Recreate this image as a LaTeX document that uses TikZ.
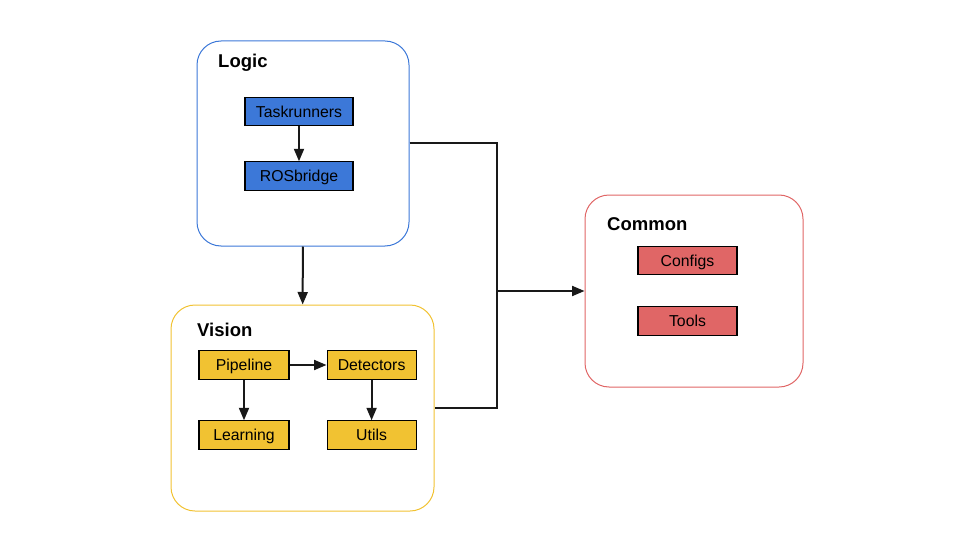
\documentclass[tikz,border=0pt]{standalone}
\usepackage{fontspec}
\setmainfont{Liberation Sans}
\usetikzlibrary{arrows.meta,positioning,calc}

\definecolor{logicblue}{HTML}{3C78D8}
\definecolor{visionyellow}{HTML}{F1C232}
\definecolor{commonred}{HTML}{E06666}

\begin{document}
\begin{tikzpicture}[x=1pt,y=-1pt,
  group/.style={draw,rounded corners=24pt,line width=1pt,inner sep=0pt},
  module/.style={draw=black,line width=1.1pt,rectangle,inner sep=0pt,minimum height=28.5pt,
    text height=14.5pt,text depth=3pt,font=\fontsize{15.8}{18}\selectfont},
  title/.style={anchor=base west,inner sep=0pt,font=\fontsize{18.5}{21}\selectfont\bfseries},
  link/.style={line width=2pt,draw=black!90},
  tip/.style={-{Triangle[length=12.5pt,width=10pt]}}]

  \useasboundingbox (0,0) rectangle (960,540);

  % the three groups
  \node (logic)  [group,draw=logicblue,minimum width=212pt,minimum height=205pt] at (303,143.5) {};
  \node (vision) [group,draw=visionyellow,minimum width=263pt,minimum height=206pt] at (302.5,408) {};
  \node (common) [group,draw=commonred,minimum width=218pt,minimum height=192pt] at (694,291) {};

  \node (logicT)  [title] at (218,68) {Logic};
  \node (visionT) [title] at (197,336) {Vision};
  \node (commonT) [title] at (607,230) {Common};

  % logic
  \node (task) [module,fill=logicblue,minimum width=108pt] at (299,111.5) {Taskrunners};
  \node (ros)  [module,fill=logicblue,minimum width=108pt,below=35pt of task] {ROSbridge};
  \draw[link,tip] (task) -- (ros);

  % vision
  \node (pipe)  [module,fill=visionyellow,minimum width=90pt] at (244,365) {Pipeline};
  \node (det)   [module,fill=visionyellow,minimum width=89pt,right=37pt of pipe] {Detectors};
  \node (learn) [module,fill=visionyellow,minimum width=90pt,below=40.5pt of pipe] {Learning};
  \node (utils) [module,fill=visionyellow,minimum width=89pt,below=40.5pt of det] {Utils};
  \draw[link,tip] (pipe) -- (det);
  \draw[link,tip] (pipe) -- (learn);
  \draw[link,tip] (det) -- (utils);

  % common
  \node (conf)  [module,fill=commonred,minimum width=99pt] at (687.5,260.5) {Configs};
  \node (tools) [module,fill=commonred,minimum width=99pt,below=31pt of conf] {Tools};

  % between groups
  \coordinate (junc) at (497,291);
  \draw[link,tip] (logic) -- (vision);
  \draw[link] (logic.east) -- (logic.east -| junc) |- (vision.east);
  \draw[link,tip] (junc) -- (common.west);
\end{tikzpicture}
\end{document}
